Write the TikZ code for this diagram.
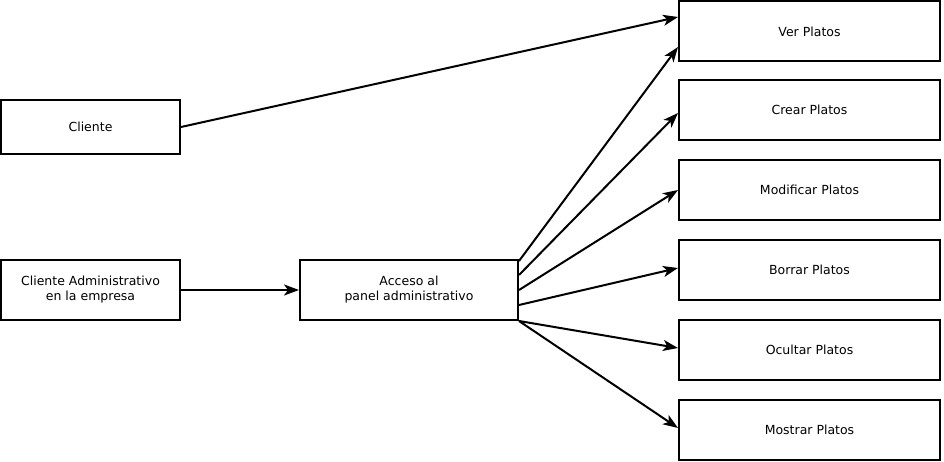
\documentclass[tikz,border=0pt]{standalone}
\usepackage{fontspec}
\setmainfont{DejaVu Sans}
\usetikzlibrary{arrows.meta}
\begin{document}
\begin{tikzpicture}[x=1pt,y=-1pt,
  box/.style={draw,line width=2pt,inner sep=0pt,align=center,font=\fontsize{12.5}{15}\selectfont},
  arr/.style={line width=2pt,-{Stealth[length=15pt,width=11pt,inset=4pt]}}]
\useasboundingbox (0,0) rectangle (944,462);
\node[box,minimum width=179pt,minimum height=54pt] (cli) at (90.5,127) {Cliente};
\node[box,minimum width=179pt,minimum height=60pt] (adm) at (90.5,290) {Cliente Administrativo\\ en la empresa};
\node[box,minimum width=218pt,minimum height=60pt] (acc) at (409,290) {Acceso al\\panel administrativo};
\foreach \n/\t/\y in {ver/Ver Platos/31.5,cre/Crear Platos/110,mod/Modificar Platos/190,bor/Borrar Platos/270,ocu/Ocultar Platos/350,mos/Mostrar Platos/430}{
  \node[box,minimum width=261pt,minimum height=60pt] (\n) at (809.5,\y) {\t};
}
\draw[arr] (cli.east) -- ([yshift=14.5pt]ver.west);
\draw[arr] (adm.east) -- (acc.west);
\draw[arr] ([yshift=29pt]acc.east) -- ([yshift=-15.5pt]ver.west);
\draw[arr] ([yshift=15pt]acc.east) -- ([yshift=-3pt]cre.west);
\draw[arr] (acc.east) -- (mod.west);
\draw[arr] ([yshift=-15pt]acc.east) -- ([yshift=2pt]bor.west);
\draw[arr] (acc.south east) -- ([yshift=2pt]ocu.west);
\draw[arr] (acc.south east) -- ([yshift=2pt]mos.west);
\end{tikzpicture}
\end{document}
